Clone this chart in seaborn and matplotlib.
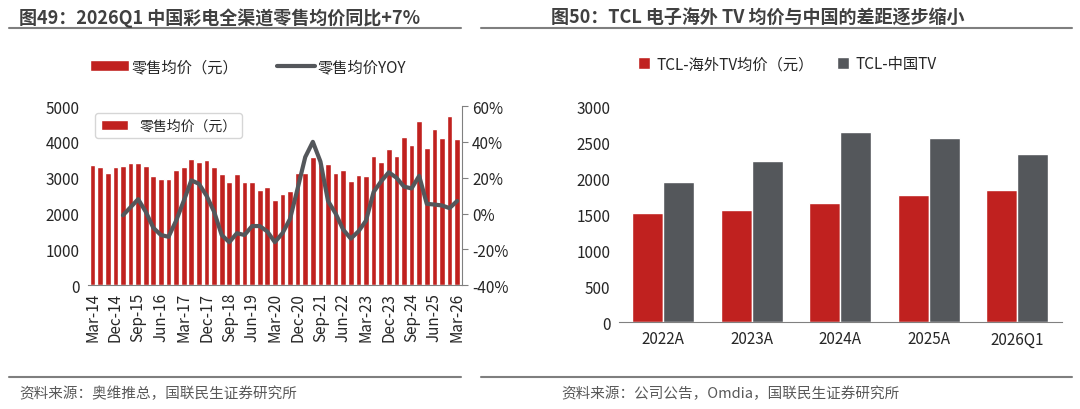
import numpy as np
import pandas as pd
import matplotlib
matplotlib.use("Agg")
import matplotlib.pyplot as plt
import seaborn as sns

sns.set_style("white")
plt.rcParams["font.family"] = ["Noto Sans CJK SC", "DejaVu Sans"]

RED = "#C0211F"
GREY = "#54575B"

# ─── Data ────────────────────────────────────────────────────────────────────
months = ["Mar", "Jun", "Sep", "Dec"]
quarters = [f"{months[i % 4]}-{14 + i // 4}" for i in range(49)]
price = [3358, 3293, 3144, 3302, 3321, 3405, 3414, 3321, 3060, 2966,
         2957, 3228, 3293, 3517, 3433, 3489, 3302, 3097, 2873, 3106,
         2873, 2873, 2668, 2752, 2379, 2537, 2640, 3134, 3134, 3573,
         3386, 3386, 3144, 3228, 2910, 3069, 3041, 3601, 3451, 3787,
         3610, 4132, 3918, 4580, 3815, 4347, 4095, 4720, 4086]
yoy = [np.nan] * 4 + [-1, 3.5, 8, 1, -8, -12, -13, -4, 7, 18.5,
       16.6, 10, 1, -12, -16, -11, -12, -7, -7, -10,
       -16, -11, -3, 14, 31.5, 40, 29, 7, 0, -9,
       -14, -10, -4, 12, 18, 23, 20, 15, 14, 21,
       5.4, 5, 4.5, 3, 7]

years = ["2022A", "2023A", "2024A", "2025A", "2026Q1"]
overseas = [1510, 1560, 1660, 1770, 1840]
china = [1940, 2240, 2640, 2560, 2330]

fig = plt.figure(figsize=(10.8, 4.1), dpi=100)

# titles, rules, sources
fig.text(0.018, 0.955, "图49：2026Q1 中国彩电全渠道零售均价同比+7%", fontsize=13,
         fontweight="bold", color="#404040", va="center")
fig.text(0.51, 0.955, "图50：TCL 电子海外 TV 均价与中国的差距逐步缩小", fontsize=13,
         fontweight="bold", color="#404040", va="center")
for x0, x1 in [(0.008, 0.427), (0.445, 0.993)]:
    fig.add_artist(plt.Line2D([x0, x1], [0.93, 0.93], color="#7F7F7F", lw=1.5))
    fig.add_artist(plt.Line2D([x0, x1], [0.078, 0.078], color="#7F7F7F", lw=1.5))
fig.text(0.018, 0.04, "资料来源：奥维推总，国联民生证券研究所", fontsize=10.5,
         color="#595959", va="center")
fig.text(0.52, 0.04, "资料来源：公司公告，Omdia，国联民生证券研究所", fontsize=10.5,
         color="#595959", va="center")

# ─── Left chart ──────────────────────────────────────────────────────────────
ax = fig.add_axes([0.0815, 0.302, 0.346, 0.437])
df = pd.DataFrame({"q": quarters, "price": price, "yoy": yoy})
sns.barplot(data=df, x="q", y="price", color=RED, width=0.75, saturation=1, ax=ax,
            label="零售均价（元）")
ax.set_ylim(0, 5000)
ax.set_yticks(range(0, 5001, 1000))
ax.set_xlim(-0.6, 48.6)
ax.set_xticks(range(49))
ax.set_xticklabels([q if i % 3 == 0 else "" for i, q in enumerate(quarters)],
                   rotation=90, fontsize=11)
ax.tick_params(axis="x", length=3, width=0.6, color="#808080", pad=2)
ax.tick_params(axis="y", labelsize=11, length=0, pad=6)
ax.set_xlabel("")
ax.set_ylabel("")
for s in ["top", "right", "left"]:
    ax.spines[s].set_visible(False)
ax.spines["bottom"].set_color("#808080")

ax2 = ax.twinx()
sns.lineplot(x=np.arange(49), y=df["yoy"], color=GREY, lw=3, ax=ax2,
             label="零售均价YOY")
ax2.set_ylim(-40, 60)
ax2.set_yticks(range(-40, 61, 20))
ax2.set_yticklabels([f"{v}%" for v in range(-40, 61, 20)])
ax2.tick_params(axis="y", labelsize=11, length=4, color="#808080", direction="out")
ax2.set_ylabel("")
for s in ["top", "left", "bottom"]:
    ax2.spines[s].set_visible(False)
ax2.spines["right"].set_color("#808080")
ax2.get_legend().remove()

h1, l1 = ax.get_legend_handles_labels()
h2, l2 = ax2.get_legend_handles_labels()
fig.legend(h1 + h2, l1 + l2, loc="center", bbox_to_anchor=(0.23, 0.835), ncol=2,
           frameon=False, fontsize=11, handlelength=2.5, columnspacing=2.5,
           handletextpad=0.2)

# ─── Right chart ─────────────────────────────────────────────────────────────
ax3 = fig.add_axes([0.573, 0.212, 0.41, 0.527])
df2 = pd.DataFrame({"year": years * 2, "val": overseas + china,
                    "series": ["TCL-海外TV均价（元）"] * 5 + ["TCL-中国TV"] * 5})
sns.barplot(data=df2, x="year", y="val", hue="series", palette=[RED, GREY],
            saturation=1, width=0.7, gap=0.0, ax=ax3)
ax3.set_ylim(0, 3000)
ax3.set_yticks(range(0, 3001, 500))
ax3.tick_params(axis="y", labelsize=11, length=0, pad=6)
ax3.tick_params(axis="x", labelsize=11, length=0, pad=6)
ax3.set_xlabel("")
ax3.set_ylabel("")
for s in ["top", "right", "left"]:
    ax3.spines[s].set_visible(False)
ax3.spines["bottom"].set_color("#808080")
ax3.legend(loc="center", bbox_to_anchor=(0.38, 1.195), ncol=2, frameon=False,
           fontsize=11, handlelength=0.8, handleheight=0.8, columnspacing=1.5,
           handletextpad=0.4)

fig.savefig("out.png", dpi=100)
